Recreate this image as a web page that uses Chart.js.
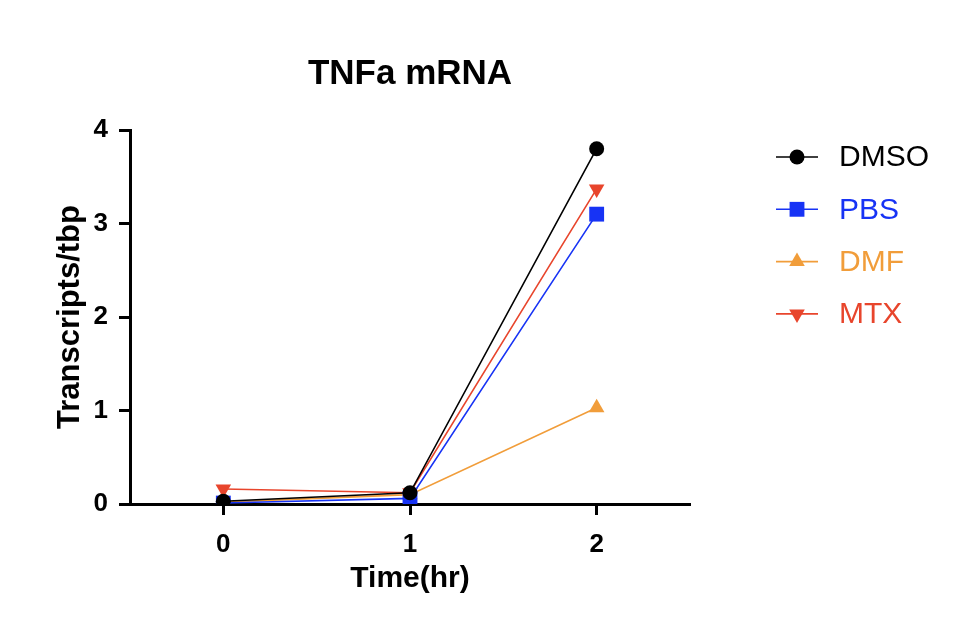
<!DOCTYPE html>
<html>
<head>
<meta charset="utf-8">
<script src="https://cdn.jsdelivr.net/npm/chart.js@4"></script>
<style>
  html, body { margin: 0; padding: 0; background: #fff; }
  #wrap { width: 958px; height: 642px; }
</style>
</head>
<body>
<div id="wrap"><canvas id="chart" width="958" height="642"></canvas></div>
<script>
// ─── Data ─────────────────────────────────────────────────────────
const timePoints = [0, 1, 2];
const dmso = [0.03, 0.12, 3.80];
const pbs  = [0.01, 0.06, 3.10];
const dmf  = [0.02, 0.10, 1.03];
const mtx  = [0.16, 0.12, 3.37];
const xTicks = [0, 1, 2];
const yTicks = [0, 1, 2, 3, 4];

const FONT = "'Liberation Sans', Arial, Helvetica, sans-serif";

const colors = {
    dmso: '#000000',
    pbs: '#1733F5',
    dmf: '#F19D3A',
    mtx: '#E8452C',
};

const pts = (ys) => timePoints.map((t, i) => ({ x: t, y: ys[i] }));

function series(label, ys, color, style, size, rot) {
    return {
        label,
        data: pts(ys),
        borderColor: color,
        backgroundColor: color,
        borderWidth: 1.6,
        pointStyle: style,
        pointRadius: size,
        pointRotation: rot || 0,
        pointBorderWidth: 0,
        pointBackgroundColor: color,
        tension: 0,
    };
}

// ─── Title + legend drawn by hand so they sit where the reference has them ───
const overlay = {
    id: 'overlay',
    afterDraw(chart) {
        const { ctx, chartArea } = chart;
        ctx.save();
        ctx.fillStyle = '#000';
        ctx.font = `bold 35px ${FONT}`;
        ctx.textAlign = 'center';
        ctx.textBaseline = 'alphabetic';
        ctx.fillText('TNFa mRNA', (chartArea.left + chartArea.right) / 2, 84);

        const x0 = 776, x1 = 818, tx = 839;
        chart.data.datasets.forEach((ds, i) => {
            const y = 157 + i * 52.3;
            ctx.strokeStyle = ds.borderColor;
            ctx.fillStyle = ds.borderColor;
            ctx.lineWidth = 1.6;
            ctx.beginPath();
            ctx.moveTo(x0, y);
            ctx.lineTo(x1, y);
            ctx.stroke();
            Chart.helpers.drawPoint(ctx, {
                pointStyle: ds.pointStyle,
                rotation: ds.pointRotation,
                radius: ds.pointRadius,
                borderWidth: 0,
            }, (x0 + x1) / 2, y);
            ctx.font = `30px ${FONT}`;
            ctx.textAlign = 'left';
            ctx.textBaseline = 'middle';
            ctx.fillText(ds.label, tx, y + 1);
        });
        ctx.restore();
    },
};

new Chart(document.getElementById('chart'), {
    type: 'line',
    data: {
        datasets: [
            series('DMSO', dmso, colors.dmso, 'circle', 7.5),
            series('PBS', pbs, colors.pbs, 'rect', 10.5),
            series('DMF', dmf, colors.dmf, 'triangle', 9),
            series('MTX', mtx, colors.mtx, 'triangle', 9, 180),
        ],
    },
    options: {
        responsive: false,
        animation: false,
        layout: { padding: { top: 130, right: 268, bottom: 0, left: 0 } },
        plugins: {
            legend: { display: false },
            title: { display: false },
            tooltip: { enabled: false },
        },
        scales: {
            x: {
                type: 'linear',
                min: -0.5,
                max: 2.5,
                afterBuildTicks: (s) => { s.ticks = xTicks.map((v) => ({ value: v })); },
                afterFit: (s) => { s.height = 138; },
                grid: { drawOnChartArea: false, tickLength: 11, tickWidth: 3, tickColor: '#000' },
                border: { color: '#000', width: 3 },
                ticks: { color: '#000', font: { family: FONT, size: 26, weight: 'bold' }, padding: 14 },
                title: {
                    display: true,
                    text: 'Time(hr)',
                    color: '#000',
                    font: { family: FONT, size: 30, weight: 'bold' },
                    padding: { top: 0, bottom: 45 },
                },
            },
            y: {
                min: 0,
                max: 4,
                afterBuildTicks: (s) => { s.ticks = yTicks.map((v) => ({ value: v })); },
                afterFit: (s) => { s.width = 130; },
                grid: { drawOnChartArea: false, tickLength: 11, tickWidth: 3, tickColor: '#000' },
                border: { color: '#000', width: 3 },
                ticks: { color: '#000', font: { family: FONT, size: 26, weight: 'bold' }, padding: 11 },
                title: {
                    display: true,
                    text: 'Transcripts/tbp',
                    color: '#000',
                    font: { family: FONT, size: 31, weight: 'bold' },
                    padding: { top: 52, bottom: 0 },
                },
            },
        },
    },
    plugins: [overlay],
});
</script>
</body>
</html>
